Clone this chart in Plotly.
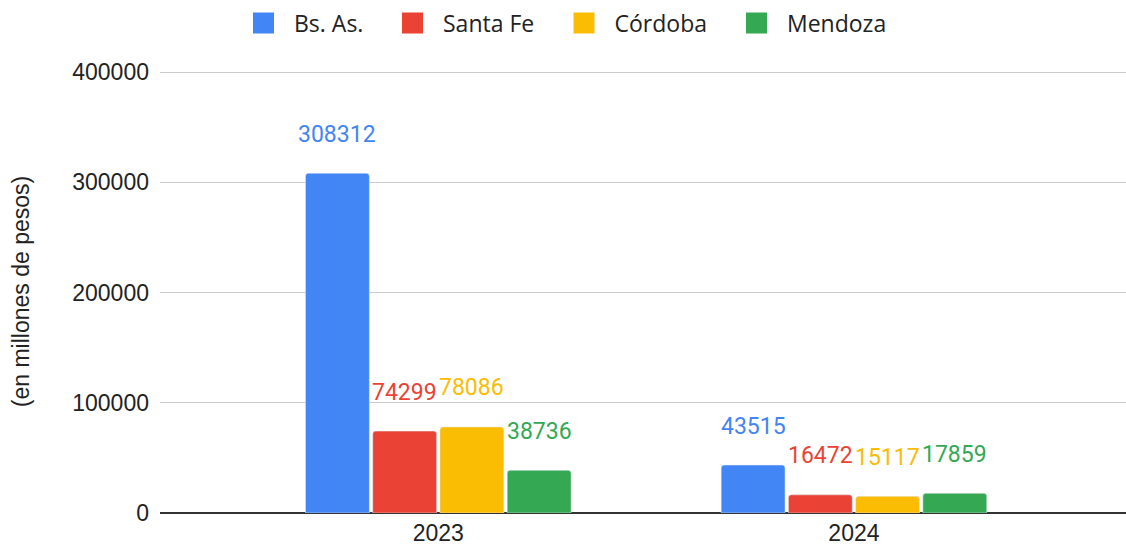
import plotly.graph_objects as go

categories = ["2023", "2024"]
series_names = ["Bs. As.", "Santa Fe", "Córdoba", "Mendoza"]
bs_as = [308312, 43515]
santa_fe = [74299, 16472]
cordoba = [78086, 15117]
mendoza = [38736, 17859]
y_ticks = [0, 100000, 200000, 300000, 400000]
y_title = "(en millones de pesos)"

series_values = [bs_as, santa_fe, cordoba, mendoza]
colors = ["#4285F4", "#EA4335", "#FBBC04", "#34A853"]

W, H = 1126, 552
margin = dict(l=160, r=0, t=70, b=39)
x_range = [-0.6695, 1.6545]
y_range = [0, 402000]
bargap = 0.353
bargroupgap = 0.05
legend_left_px = [233, 382, 553.5, 726]
legend_ids = ["legend", "legend2", "legend3", "legend4"]

fig = go.Figure()
for name, vals, col, lid in zip(series_names, series_values, colors, legend_ids):
    fig.add_trace(go.Bar(x=categories, y=vals, name=name, marker_color=col,
                         showlegend=False, hoverinfo="x+y+name"))
    fig.add_trace(go.Scatter(x=[None], y=[None], mode="markers", name=name,
                             marker=dict(symbol="square", size=16, color=col,
                                         line=dict(color=col, width=5)),
                             showlegend=True, legend=lid))

# label positions derived from axis geometry
plot_w = W - margin["l"] - margin["r"]
px_per_cat = plot_w / (x_range[1] - x_range[0])
slot_px = px_per_cat * (1 - bargap) / len(series_names)
annotations = []
for i, (vals, col) in enumerate(zip(series_values, colors)):
    for ci, v in enumerate(vals):
        annotations.append(dict(x=ci, y=v, xref="x", yref="y", text=str(v),
                                showarrow=False, xshift=(i - 1.5) * slot_px,
                                yshift=39, yanchor="middle", xanchor="center",
                                font=dict(family="Roboto", size=23, color=col)))

legend_font = dict(family="Open Sans", size=23, color="#222222")
legend_layouts = {}
for lid, lx in zip(legend_ids, legend_left_px):
    legend_layouts[lid] = dict(orientation="h", x=lx / W, xanchor="left",
                               xref="container", y=1 - 23 / H, yanchor="middle",
                               yref="container", font=legend_font, itemwidth=51,
                               itemclick=False, bgcolor="rgba(0,0,0,0)")

fig.update_layout(
    width=W, height=H, margin=margin,
    paper_bgcolor="white", plot_bgcolor="white",
    barmode="group", bargap=bargap, bargroupgap=bargroupgap,
    barcornerradius=3,
    annotations=annotations,
    xaxis=dict(type="category", range=x_range, showgrid=False,
               tickfont=dict(family="Liberation Sans", size=23, color="#222222"),
               ticks="", ticklabelstandoff=4),
    yaxis=dict(range=y_range, tickvals=y_ticks,
               ticktext=[str(t) for t in y_ticks],
               gridcolor="#cccccc", gridwidth=1,
               zeroline=True, zerolinecolor="#333333", zerolinewidth=1.5,
               tickfont=dict(family="Liberation Sans", size=23, color="#222222"),
               ticklabelstandoff=10,
               title=dict(text=y_title, standoff=36,
                          font=dict(family="Liberation Sans", size=23, color="#222222"))),
    **legend_layouts,
)

fig.write_html("out.html", config={"displayModeBar": False},
               post_script="document.body.style.margin='0';")
